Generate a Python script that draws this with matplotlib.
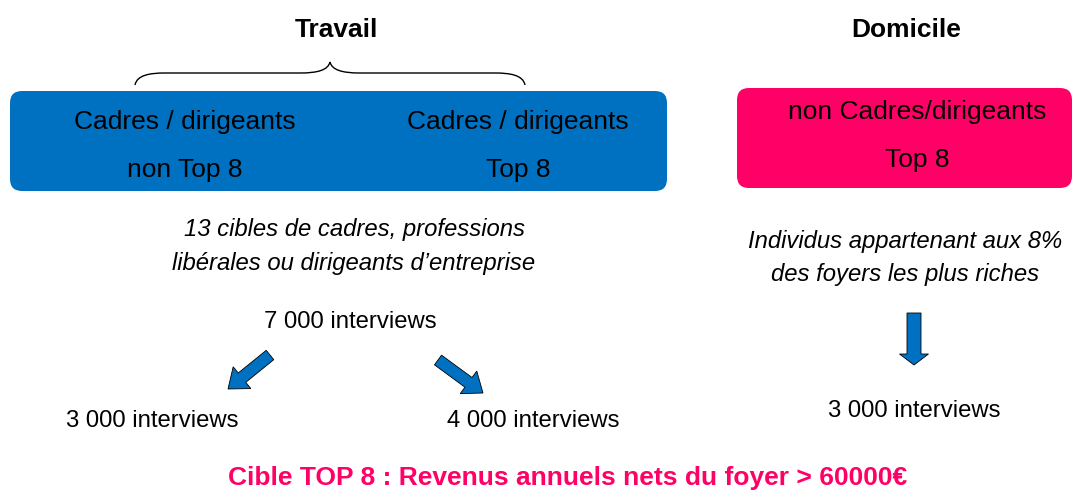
import matplotlib
matplotlib.use("Agg")
import matplotlib.pyplot as plt
from matplotlib.patches import FancyBboxPatch, FancyArrow, PathPatch
from matplotlib.path import Path

# ---------------------------------------------------------------------------
# Content
# ---------------------------------------------------------------------------
group_titles = ["Travail", "Domicile"]
travail_labels = [("Cadres / dirigeants", "non Top 8"), ("Cadres / dirigeants", "Top 8")]
domicile_label = ("non Cadres/dirigeants", "Top 8")
travail_desc = ["13 cibles de cadres, professions", "libérales ou dirigeants d\u2019entreprise"]
domicile_desc = ["Individus appartenant aux 8%", "des foyers les plus riches"]
travail_total = "7 000 interviews"
travail_split = ["3 000 interviews", "4 000 interviews"]
domicile_total = "3 000 interviews"
footer = "Cible TOP 8 : Revenus annuels nets du foyer > 60000\u20ac"

BLUE = "#0070C0"
PINK = "#FF0066"
FONT = ["Liberation Sans Narrow", "Liberation Sans", "DejaVu Sans"]

plt.rcParams["font.family"] = FONT

W, H = 1073, 498
fig = plt.figure(figsize=(W / 100, H / 100), dpi=100)
ax = fig.add_axes([0, 0, 1, 1])
ax.set_xlim(0, W)
ax.set_ylim(H, 0)
ax.axis("off")

# titles
ax.text(336, 30, group_titles[0], ha="center", va="center", fontsize=19, fontweight="bold")
ax.text(906, 30, group_titles[1], ha="center", va="center", fontsize=19, fontweight="bold")

# brace over the blue box
verts = [(135, 85), (137, 75), (150, 73), (165, 73),
         (300, 73),
         (318, 73), (328, 70), (330, 62),
         (332, 70), (342, 73), (360, 73),
         (495, 73),
         (510, 73), (523, 75), (525, 85)]
codes = [Path.MOVETO, Path.CURVE4, Path.CURVE4, Path.CURVE4,
         Path.LINETO,
         Path.CURVE4, Path.CURVE4, Path.CURVE4,
         Path.CURVE4, Path.CURVE4, Path.CURVE4,
         Path.LINETO,
         Path.CURVE4, Path.CURVE4, Path.CURVE4]
ax.add_patch(PathPatch(Path(verts, codes), fill=False, lw=1.0, color="black"))

# boxes
ax.add_patch(FancyBboxPatch((22, 103), 633, 76, boxstyle="round,pad=12",
                            fc=BLUE, ec="none"))
ax.add_patch(FancyBboxPatch((749, 100), 311, 76, boxstyle="round,pad=12",
                            fc=PINK, ec="none"))

for x, (l1, l2) in zip([185, 518], travail_labels):
    ax.text(x, 122, l1, ha="center", va="center", fontsize=19)
    ax.text(x, 170, l2, ha="center", va="center", fontsize=19)
ax.text(917, 112, domicile_label[0], ha="center", va="center", fontsize=19)
ax.text(917, 160, domicile_label[1], ha="center", va="center", fontsize=19)

# descriptions
for i, line in enumerate(travail_desc):
    ax.text(354, 229 + 34 * i, line, ha="center", va="center", fontsize=17.2, style="italic")
for i, line in enumerate(domicile_desc):
    ax.text(905, 241 + 33 * i, line, ha="center", va="center", fontsize=17.2, style="italic")

# interview counts
ax.text(350, 322, travail_total, ha="center", va="center", fontsize=17.2)
ax.text(152, 421, travail_split[0], ha="center", va="center", fontsize=17.2)
ax.text(533, 421, travail_split[1], ha="center", va="center", fontsize=17.2)
ax.text(914, 411, domicile_total, ha="center", va="center", fontsize=17.2)

# block arrows
arrow_kw = dict(width=12, head_width=28, head_length=18, length_includes_head=True,
                fc=BLUE, ec="black", lw=0.6)
ax.add_patch(FancyArrow(270, 355, 228 - 270, 389 - 355, **arrow_kw))
ax.add_patch(FancyArrow(438, 360, 483 - 438, 393 - 360, **arrow_kw))
ax.add_patch(FancyArrow(914, 313, 0, 52, width=14, head_width=29, head_length=11,
                        length_includes_head=True, fc=BLUE, ec="black", lw=0.6))

# footer
ax.text(568, 478, footer, ha="center", va="center", fontsize=19, fontweight="bold",
        color=PINK)

fig.savefig("out.png", dpi=100)
